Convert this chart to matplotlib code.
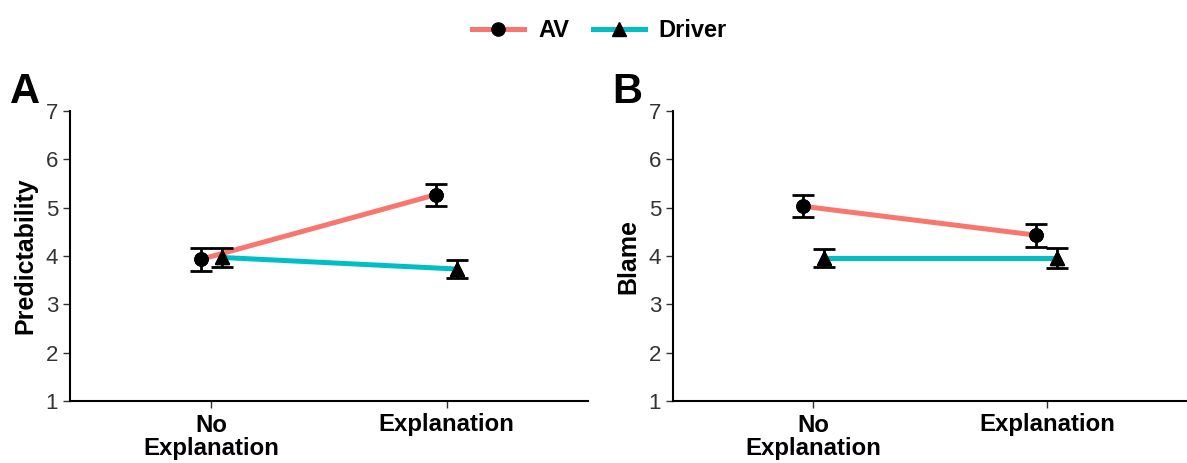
import matplotlib.pyplot as plt
import numpy as np

plt.rcParams['font.family'] = ['Liberation Sans', 'DejaVu Sans']

conditions = ["No\nExplanation", "Explanation"]
groups = ["AV", "Driver"]

pred_av = [3.93, 5.27]
pred_av_se = [0.24, 0.23]
pred_driver = [3.97, 3.73]
pred_driver_se = [0.19, 0.19]

blame_av = [5.03, 4.43]
blame_av_se = [0.23, 0.24]
blame_driver = [3.96, 3.96]
blame_driver_se = [0.19, 0.20]

colors = {"AV": "#F8766D", "Driver": "#00BFC4"}
markers = {"AV": "o", "Driver": "^"}
dodge = {"AV": -0.045, "Driver": 0.045}

fig = plt.figure(figsize=(11.87, 4.63), dpi=100)
W, H = 1187, 463
axA = fig.add_axes([70 / W, 1 - 401 / H, (588 - 70) / W, 290 / H])
axB = fig.add_axes([673 / W, 1 - 401 / H, (1187 - 673) / W, 290 / H])


def draw_panel(ax, data, ylabel, letter, letter_x):
    x = np.arange(1, len(conditions) + 1)
    handles = []
    for g in groups:
        mean, se = data[g]
        xs = x + dodge[g]
        ln, = ax.plot(xs, mean, color=colors[g], lw=3.6, zorder=2,
                      marker=markers[g], markersize=9.5, markerfacecolor="black",
                      markeredgecolor="black", label=g)
        ax.errorbar(xs, mean, yerr=se, fmt="none", ecolor="black",
                    elinewidth=2, capsize=8, capthick=2, zorder=3)
        ax.plot(xs, mean, linestyle="none", marker=markers[g], markersize=9.5,
                color="black", zorder=4)
        handles.append(ln)
    ax.set_xlim(0.4, 2.6)
    ax.set_ylim(1, 7)
    ax.set_xticks(x)
    ax.set_xticklabels(conditions, fontsize=17.3, fontweight="bold",
                       color="black", linespacing=1.0)
    ax.set_yticks(range(1, 8))
    ax.tick_params(axis="y", labelsize=16, labelcolor="#333333",
                   color="#333333", length=5, width=1)
    ax.tick_params(axis="x", color="#333333", length=5, width=1, pad=4)
    for s in ["top", "right"]:
        ax.spines[s].set_visible(False)
    for s in ["left", "bottom"]:
        ax.spines[s].set_linewidth(1.5)
    ax.set_ylabel(ylabel, fontsize=18, fontweight="bold", labelpad=6)
    fig.text(letter_x, 1 - 103 / H, letter, fontsize=30, fontweight="bold",
             ha="left", va="baseline")
    return handles


hA = draw_panel(axA, {"AV": (pred_av, pred_av_se),
                      "Driver": (pred_driver, pred_driver_se)},
                "Predictability", "A", 10 / W)
draw_panel(axB, {"AV": (blame_av, blame_av_se),
                 "Driver": (blame_driver, blame_driver_se)},
           "Blame", "B", 612 / W)

fig.legend(handles=hA, labels=groups, loc="upper center",
           bbox_to_anchor=(0.505, 1.005), ncol=2, frameon=False,
           prop={"size": 17, "weight": "bold"}, handlelength=2.2,
           columnspacing=1.0, handletextpad=0.6)

fig.savefig("out.png", dpi=100)
